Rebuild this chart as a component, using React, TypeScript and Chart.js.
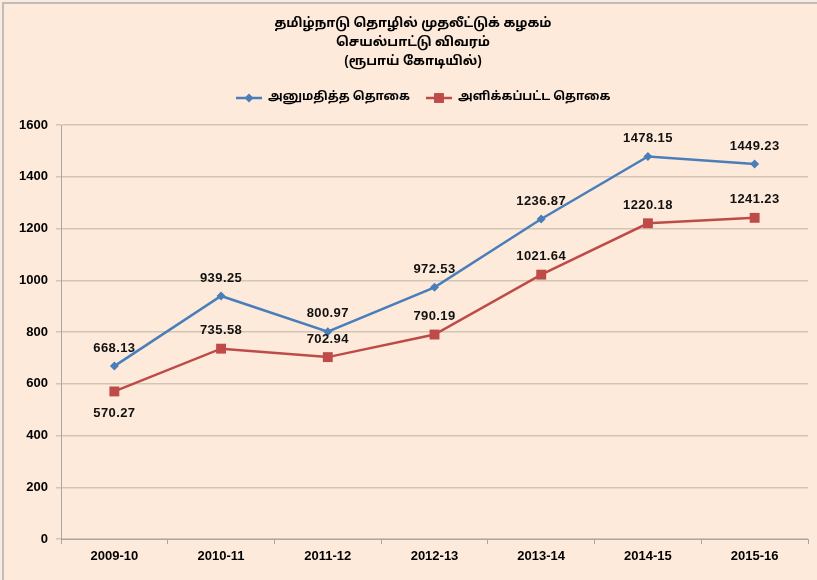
import { useEffect, useRef } from 'react';
import { Chart, registerables } from 'chart.js';

Chart.register(...registerables);

const categories = ['2009-10', '2010-11', '2011-12', '2012-13', '2013-14', '2014-15', '2015-16'];
const sanctioned = [668.13, 939.25, 800.97, 972.53, 1236.87, 1478.15, 1449.23];
const disbursed = [570.27, 735.58, 702.94, 790.19, 1021.64, 1220.18, 1241.23];
const yMin = 0;
const yMax = 1600;
const yStep = 200;
const titleLines = ['தமிழ்நாடு தொழில் முதலீட்டுக் கழகம்', 'செயல்பாட்டு விவரம்', '(ரூபாய் கோடியில்)'];
const seriesNames = ['அனுமதித்த தொகை', 'அளிக்கப்பட்ட தொகை'];
// label placement: 1 = above, -1 = below
const sanctionedLabelPos = [1, 1, 1, 1, 1, 1, 1];
const disbursedLabelPos = [-1, 1, 1, 1, 1, 1, 1];

const BLUE = '#4A7EBB';
const RED = '#BE4B48';
const BG = '#FDEADA';
const TAMIL_FONT = '"Noto Sans Tamil", "Lohit Tamil", "Noto Sans", "DejaVu Sans", sans-serif';
const NUM_FONT = '"Liberation Sans", Arial, sans-serif';

const bgPlugin = {
  id: 'bgPlugin',
  beforeDraw(chart: any) {
    const ctx = chart.ctx;
    ctx.save();
    ctx.fillStyle = BG;
    ctx.fillRect(0, 0, chart.width, chart.height);
    ctx.strokeStyle = '#BDBDBD';
    ctx.lineWidth = 2;
    ctx.strokeRect(3, 3, chart.width + 20, chart.height + 20);
    ctx.restore();
  },
};

const headerPlugin = {
  id: 'headerPlugin',
  afterDraw(chart: any) {
    const ctx = chart.ctx;
    ctx.save();
    ctx.fillStyle = '#000';
    ctx.textAlign = 'center';
    ctx.textBaseline = 'middle';
    ctx.font = `bold 13px ${TAMIL_FONT}`;
    const ys = [24, 43, 62];
    titleLines.forEach((t, i) => ctx.fillText(t, 413, ys[i]));

    // legend
    const ly = 98;
    const items = [
      { x: 236, color: BLUE, style: 'rectRot', r: 4.5, text: seriesNames[0] },
      { x: 426, color: RED, style: 'rect', r: 7, text: seriesNames[1] },
    ];
    ctx.font = `bold 12px ${TAMIL_FONT}`;
    ctx.textAlign = 'left';
    items.forEach((it) => {
      ctx.strokeStyle = it.color;
      ctx.lineWidth = 2.5;
      ctx.beginPath();
      ctx.moveTo(it.x, ly);
      ctx.lineTo(it.x + 26, ly);
      ctx.stroke();
      ctx.fillStyle = it.color;
      ctx.beginPath();
      if (it.style === 'rectRot') {
        const cx = it.x + 13;
        ctx.moveTo(cx, ly - it.r);
        ctx.lineTo(cx + it.r, ly);
        ctx.lineTo(cx, ly + it.r);
        ctx.lineTo(cx - it.r, ly);
        ctx.closePath();
      } else {
        const s = it.r * Math.SQRT1_2;
        ctx.rect(it.x + 13 - s, ly - s, 2 * s, 2 * s);
      }
      ctx.fill();
      ctx.fillStyle = '#000';
      ctx.fillText(it.text, it.x + 32, ly);
    });
    ctx.restore();
  },
};

const labelPlugin = {
  id: 'labelPlugin',
  afterDatasetsDraw(chart: any) {
    const ctx = chart.ctx;
    ctx.save();
    ctx.fillStyle = '#111';
    ctx.textAlign = 'center';
    ctx.textBaseline = 'middle';
    ctx.font = `bold 13px ${NUM_FONT}`;
    (ctx as any).letterSpacing = '0.4px';
    const positions = [sanctionedLabelPos, disbursedLabelPos];
    chart.data.datasets.forEach((ds: any, di: number) => {
      const meta = chart.getDatasetMeta(di);
      meta.data.forEach((pt: any, i: number) => {
        const v = ds.data[i] as number;
        const pos = positions[di][i];
        const dy = pos > 0 ? -18 : 22;
        ctx.fillText(v.toFixed(2), pt.x, pt.y + dy);
      });
    });
    ctx.restore();
  },
};

export default function App() {
  const ref = useRef<HTMLCanvasElement | null>(null);
  useEffect(() => {
    document.body.style.margin = '0';
    const canvas = ref.current;
    if (!canvas) return;
    const chart = new Chart(canvas, {
      type: 'line',
      data: {
        labels: categories,
        datasets: [
          {
            label: seriesNames[0],
            data: sanctioned,
            borderColor: BLUE,
            backgroundColor: BLUE,
            borderWidth: 2.5,
            pointStyle: 'rectRot',
            pointRadius: 4.5,
            pointBorderWidth: 0,
            tension: 0,
          },
          {
            label: seriesNames[1],
            data: disbursed,
            borderColor: RED,
            backgroundColor: RED,
            borderWidth: 2.5,
            pointStyle: 'rect',
            pointRadius: 7,
            pointBorderWidth: 0,
            tension: 0,
          },
        ],
      },
      options: {
        responsive: false,
        animation: false,
        devicePixelRatio: 1,
        layout: { padding: { top: 125, left: 3, right: 9, bottom: 11 } },
        plugins: {
          legend: { display: false },
          title: { display: false },
          tooltip: { enabled: false },
        },
        scales: {
          x: {
            offset: true,
            grid: {
              offset: true,
              drawOnChartArea: false,
              drawTicks: true,
              tickLength: 5,
              color: '#A6A6A6',
            },
            border: { color: '#A6A6A6', width: 1 },
            ticks: {
              color: '#000',
              font: { family: NUM_FONT, size: 13, weight: 'bold' },
              padding: 5,
              maxRotation: 0,
            },
            afterFit(scale: any) {
              scale.height = 30;
            },
          },
          y: {
            min: yMin,
            max: yMax,
            grid: {
              color: '#D3C5B6',
              lineWidth: 1.5,
              drawTicks: true,
              tickLength: 5,
            },
            border: { color: '#A6A6A6', width: 1 },
            ticks: {
              stepSize: yStep,
              color: '#000',
              font: { family: NUM_FONT, size: 13, weight: 'bold' },
              padding: 8,
              callback: (v: any) => String(v),
            },
            afterFit(scale: any) {
              scale.width = 58;
            },
          },
        },
      },
      plugins: [bgPlugin, headerPlugin, labelPlugin],
    });
    return () => chart.destroy();
  }, []);
  return <canvas ref={ref} width={817} height={580} style={{ display: 'block' }} />;
}
